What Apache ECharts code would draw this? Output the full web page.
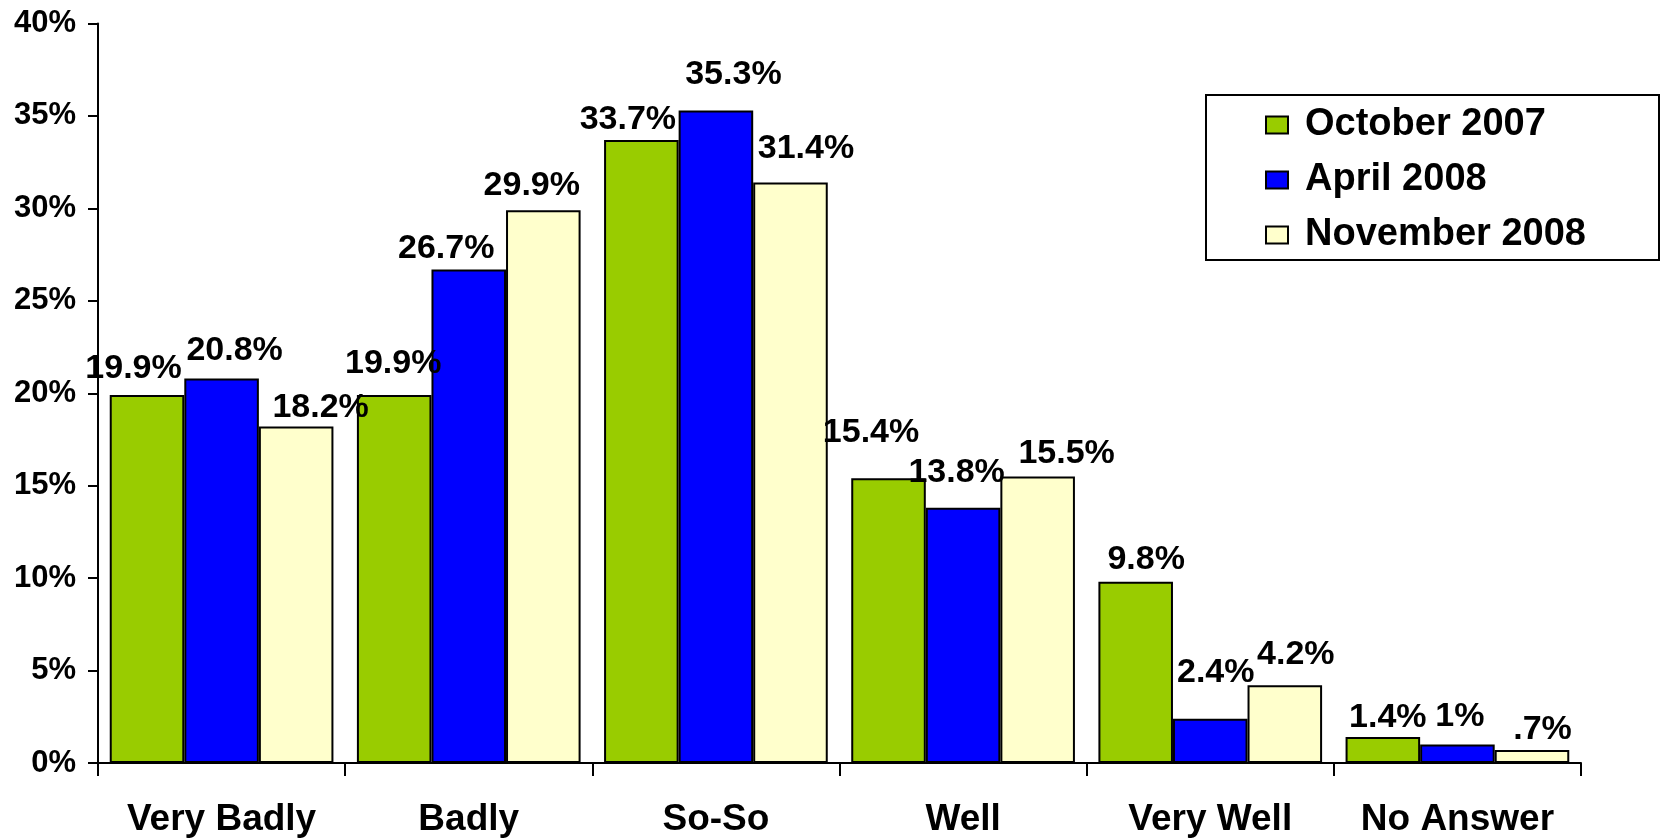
<!DOCTYPE html>
<html>
<head>
<meta charset="utf-8">
<script src="https://cdn.jsdelivr.net/npm/echarts@6/dist/echarts.min.js"></script>
<style>
html,body{margin:0;padding:0;background:#fff;}
#chart{width:1662px;height:838px;}
</style>
</head>
<body>
<div id="chart"></div>
<script>
const categories = ['Very Badly', 'Badly', 'So-So', 'Well', 'Very Well', 'No Answer'];
const seriesNames = ['October 2007', 'April 2008', 'November 2008'];
const oct2007 = [19.9, 19.9, 33.7, 15.4, 9.8, 1.4];
const apr2008 = [20.8, 26.7, 35.3, 13.8, 2.4, 1.0];
const nov2008 = [18.2, 29.9, 31.4, 15.5, 4.2, 0.7];
const yTicks = [0, 5, 10, 15, 20, 25, 30, 35, 40];

// label placement style (horizontal shift, gap from bar top to text baseline)
const octLabelDx = [-13.5, -1, -13.5, -17.5, 10.5, 5];
const octLabelGap = [18, 23, 12, 38, 14, 11];
const aprLabelDx = [13, -22.5, 17.5, -6.5, 5.5, 2.5];
const aprLabelGap = [20, 13, 28, 27, 38, 20];
const novLabelDx = [24.5, -11.5, 15.5, 29, 11, 10.5];
const novLabelGap = [11, 17, 26, 15, 23, 12];

const colors = ['#99CC00', '#0000FF', '#FFFFCC'];
const FONT = 'Liberation Sans, Arial, Helvetica, sans-serif';
const BASE = 9;

function fmt(v) {
  let s = Number.isInteger(v) ? String(v) : v.toFixed(1);
  if (s.startsWith('0.')) s = s.slice(1);
  return s + '%';
}

function buildData(vals, dxs, gaps) {
  return vals.map((v, i) => ({
    value: v,
    label: { offset: [dxs[i], BASE - gaps[i]] }
  }));
}

function makeSeries(name, vals, dxs, gaps, color) {
  return {
    name: name,
    type: 'bar',
    barGap: '0%',
    barCategoryGap: '9.5%',
    data: buildData(vals, dxs, gaps),
    itemStyle: { color: color, borderColor: '#000', borderWidth: 2 },
    label: {
      show: true,
      position: 'top',
      distance: 0,
      fontFamily: FONT,
      fontWeight: 'bold',
      fontSize: 34,
      color: '#000',
      formatter: p => fmt(p.value)
    },
    emphasis: { disabled: true },
    animation: false
  };
}

const chart = echarts.init(document.getElementById('chart'), null, { renderer: 'canvas' });
chart.setOption({
  backgroundColor: '#fff',
  animation: false,
  grid: { left: 98, right: 81, top: 23.5, bottom: 75, containLabel: false },
  legend: {
    data: seriesNames,
    orient: 'vertical',
    left: 1206,
    top: 95,
    itemWidth: 22,
    itemHeight: 17,
    itemGap: 17,
    padding: [11, 40, 6, 59],
    borderColor: '#000',
    borderWidth: 2,
    backgroundColor: '#fff',
    icon: 'rect',
    textStyle: {
      fontFamily: FONT,
      fontWeight: 'bold',
      fontSize: 38,
      lineHeight: 38,
      color: '#000',
      width: 314,
      overflow: 'none',
      padding: [0, 0, 0, 12]
    },
    selectedMode: false
  },
  xAxis: {
    type: 'category',
    data: categories,
    axisLine: { lineStyle: { color: '#000', width: 2 } },
    axisTick: { show: true, length: 13, lineStyle: { color: '#000', width: 2 } },
    axisLabel: {
      fontFamily: FONT,
      fontWeight: 'bold',
      fontSize: 37,
      color: '#000',
      margin: 38,
      interval: 0
    }
  },
  yAxis: {
    type: 'value',
    min: yTicks[0],
    max: yTicks[yTicks.length - 1],
    interval: yTicks[1] - yTicks[0],
    axisLine: { show: true, lineStyle: { color: '#000', width: 2 } },
    axisTick: { show: true, length: 10, lineStyle: { color: '#000', width: 2 } },
    splitLine: { show: false },
    axisLabel: {
      fontFamily: FONT,
      fontWeight: 'bold',
      fontSize: 31,
      color: '#000',
      margin: 22,
      formatter: '{value}%'
    }
  },
  series: [
    makeSeries(seriesNames[0], oct2007, octLabelDx, octLabelGap, colors[0]),
    makeSeries(seriesNames[1], apr2008, aprLabelDx, aprLabelGap, colors[1]),
    makeSeries(seriesNames[2], nov2008, novLabelDx, novLabelGap, colors[2])
  ]
});
</script>
</body>
</html>
